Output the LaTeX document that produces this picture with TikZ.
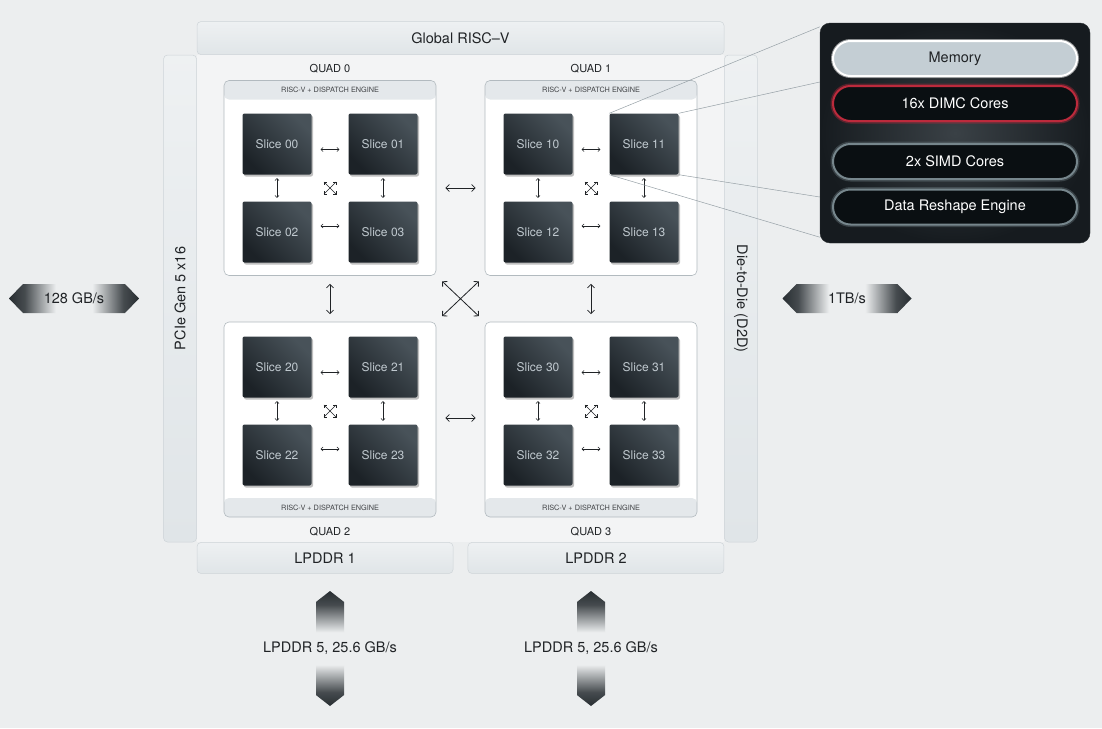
\documentclass[tikz,border=0pt]{standalone}
\usepackage{fontspec}
\setmainfont{TeX Gyre Heros}
\usetikzlibrary{positioning,calc,shadows,shapes.arrows,arrows.meta}

\definecolor{chipbg}{RGB}{236,238,239}
\definecolor{corefill}{RGB}{243,244,245}
\definecolor{barfill}{RGB}{224,229,232}
\definecolor{baredge}{RGB}{206,212,216}
\definecolor{quadedge}{RGB}{178,186,191}
\definecolor{stripfill}{RGB}{228,232,235}
\definecolor{slicedark}{RGB}{28,34,39}
\definecolor{slicelight}{RGB}{72,82,89}
\definecolor{slicetext}{RGB}{192,201,207}
\definecolor{inktext}{RGB}{32,35,38}
\definecolor{linkdark}{RGB}{40,46,50}
\definecolor{paneldark}{RGB}{22,27,31}
\definecolor{panelmid}{RGB}{58,65,70}
\definecolor{memfill}{RGB}{196,206,212}
\definecolor{dimcred}{RGB}{188,42,60}
\definecolor{pillrim}{RGB}{118,134,140}
\definecolor{pillfill}{RGB}{10,15,18}
\definecolor{calloutgray}{RGB}{150,160,166}

\pgfdeclarehorizontalshading{linkfade}{100bp}{color(0bp)=(linkdark); color(25bp)=(linkdark); color(31bp)=(linkdark!85!chipbg); color(43bp)=(chipbg); color(57bp)=(chipbg); color(69bp)=(linkdark!85!chipbg); color(75bp)=(linkdark); color(100bp)=(linkdark)}

\pgfdeclarelayer{front}
\pgfsetlayers{main,front}

\tikzset{
  bar/.style={rectangle, rounded corners=4pt, top color=barfill!55!white, bottom color=barfill, draw=baredge, line width=0.5pt, text=inktext, inner sep=0pt, font=\fontsize{14.5}{17}\selectfont},
  quad/.style={rectangle, rounded corners=5pt, fill=white, draw=quadedge, line width=0.6pt, minimum width=212pt, minimum height=195pt},
  quadtop/.style={quad, path picture={\fill[stripfill] (path picture bounding box.north west) rectangle ([yshift=-19pt]path picture bounding box.north east);}},
  quadbottom/.style={quad, path picture={\fill[stripfill] (path picture bounding box.south west) rectangle ([yshift=19pt]path picture bounding box.south east);}},
  slice/.style={rectangle, rounded corners=2pt, minimum width=69pt, minimum height=61pt, top color=slicelight, bottom color=slicedark, shading angle=-45, text=slicetext, font=\fontsize{12}{14}\selectfont, drop shadow={shadow xshift=1.5pt, shadow yshift=-2pt, opacity=0.25, fill=black}},
  quadlabel/.style={text=inktext, font=\fontsize{11}{13}\selectfont},
  enginelabel/.style={text=inktext!85, font=\fontsize{7.3}{9}\selectfont},
  link/.style={>={Straight Barb[length=2pt,width=4pt]}, <->, line width=0.55pt, draw=inktext},
  hshort/.style={shorten <=9pt, shorten >=9pt},
  vshort/.style={shorten <=3.5pt, shorten >=3.5pt},
  bus/.style={>={Straight Barb[length=3.5pt,width=7pt]}, <->, line width=0.8pt, draw=inktext},
  hlink/.style={double arrow, double arrow head extend=0pt, double arrow tip angle=92, inner sep=0pt, minimum width=29pt, shade, shading=linkfade, text=inktext, font=\fontsize{14.5}{17}\selectfont},
  vlink/.style={hlink, rotate=90, shading angle=90, minimum height=115pt, minimum width=28pt, double arrow tip angle=104},
  linklabel/.style={text=inktext, font=\fontsize{14.5}{17}\selectfont},
  panel/.style={rectangle, rounded corners=10pt, minimum width=270pt, minimum height=220pt, inner color=panelmid, outer color=paneldark, draw=panelmid!70!black},
  pill/.style={rectangle, rounded corners=17.5pt, minimum width=244pt, minimum height=35pt, line width=2pt, text=white, font=\fontsize{14.5}{17}\selectfont},
  memorypill/.style={fill=memfill, draw=white, text=inktext, preaction={draw=white, line width=4pt, opacity=0.5}},
  dimcpill/.style={fill=pillfill, draw=dimcred, preaction={draw=dimcred, line width=5pt, opacity=0.4}},
  corepill/.style={fill=pillfill, draw=pillrim, preaction={draw=pillrim, line width=5pt, opacity=0.35}},
  callout/.style={draw=calloutgray, line width=0.5pt}
}

\begin{document}
\begin{tikzpicture}[x=1pt, y=-1pt]
  \useasboundingbox (0,0) rectangle (1102,728);
  \fill[chipbg] (0,0) rectangle (1102,728);

  % chip frame
  \node[fill=corefill, minimum width=527pt, minimum height=487pt, inner sep=0pt] (core) at (460.5,298.5) {};
  \node[bar, minimum width=527pt, minimum height=33pt, above=0pt of core] (globalbar) {Global RISC–V};
  \node[bar, rotate=90, anchor=south, minimum width=487pt, minimum height=33pt] (pciebar) at (core.west) {PCIe Gen 5 x16};
  \node[bar, rotate=-90, anchor=south, minimum width=487pt, minimum height=33pt] (d2dbar) at (core.east) {Die-to-Die (D2D)};
  \node[bar, anchor=north west, minimum width=256pt, minimum height=31pt] (lpddr1) at (core.south west) {LPDDR 1};
  \node[bar, anchor=north east, minimum width=256pt, minimum height=31pt] (lpddr2) at (core.south east) {LPDDR 2};

  % off-chip links
  \node[hlink, minimum height=130pt] (pcielink) at (74,298.5) {128 GB/s};
  \node[hlink, minimum height=129pt] (d2dlink) at (847,298.5) {1TB/s};
  \node[vlink] (ddrlink1) at (330,648.5) {};
  \node[vlink] (ddrlink2) at (591,648.5) {};
  \node[linklabel] (ddrtext1) at (ddrlink1.center) {LPDDR 5, 25.6 GB/s};
  \node[linklabel] (ddrtext2) at (ddrlink2.center) {LPDDR 5, 25.6 GB/s};

  % quads
  \foreach \q/\qx/\qy/\gy/\qs/\ha/\hy/\la/\ly in {0/330/178/188/quadtop/north/-9.5/south/4, 1/591/178/188/quadtop/north/-9.5/south/4, 2/330/419.5/411/quadbottom/south/9.5/north/-6, 3/591/419.5/411/quadbottom/south/9.5/north/-6} {
    \node[\qs] (quad\q) at (\qx,\qy) {};
    \node[enginelabel] (engine\q) at ([yshift=\hy pt]quad\q.\ha) {RISC-V + DISPATCH ENGINE};
    \node[quadlabel, anchor=\la] (quadname\q) at ([yshift=\ly pt]quad\q.\ha) {QUAD \q};
    \foreach \r in {0,1} {
      \foreach \c in {0,1} {
        \pgfmathtruncatemacro\s{2*\r+\c}
        \node[slice] (slice\q\s) at (\qx-53+106*\c, \gy-44+88*\r) {Slice \q\s};
      }
    }
    \draw[link, hshort] ([yshift=-5.5pt]slice\q0.east) -- ([yshift=-5.5pt]slice\q1.west);
    \draw[link, hshort] ([yshift=6pt]slice\q2.east) -- ([yshift=6pt]slice\q3.west);
    \draw[link, vshort] (slice\q0.south) -- (slice\q2.north);
    \draw[link, vshort] (slice\q1.south) -- (slice\q3.north);
    \coordinate (hub\q) at (\qx,\gy);
    \draw[link] ($(hub\q)+(-6.5,-6.5)$) -- ($(hub\q)+(6.5,6.5)$);
    \draw[link] ($(hub\q)+(6.5,-6.5)$) -- ($(hub\q)+(-6.5,6.5)$);
  }

  % links between quads
  \draw[bus, shorten <=9pt, shorten >=9pt] ([yshift=-10pt]quad0.east) -- ([yshift=-10pt]quad1.west);
  \draw[bus, shorten <=9pt, shorten >=9pt] ([yshift=1.5pt]quad2.east) -- ([yshift=1.5pt]quad3.west);
  \draw[bus, shorten <=8pt, shorten >=7.5pt] (quad0.south) -- (quad2.north);
  \draw[bus, shorten <=8pt, shorten >=7.5pt] (quad1.south) -- (quad3.north);
  \draw[bus, shorten <=8pt, shorten >=8pt] (quad0.south east) -- (quad3.north west);
  \draw[bus, shorten <=8pt, shorten >=8pt] (quad1.south west) -- (quad2.north east);

  % slice detail
  \begin{pgfonlayer}{front}
    \node[panel] (dimcpanel) at (955,133) {};
    \node[pill, memorypill] (memory) at (955,58.5) {Memory};
    \node[pill, dimcpill, below=8pt of memory] (dimc) {16x DIMC Cores};
    \node[pill, corepill, below=21pt of dimc] (simd) {2x SIMD Cores};
    \node[pill, corepill, below=8.5pt of simd] (reshape) {Data Reshape Engine};
  \end{pgfonlayer}
  \draw[callout] (slice11.north west) -- ([yshift=-4pt]dimcpanel.north west);
  \draw[callout] (slice11.north east) -- ([yshift=51pt]dimcpanel.west);
  \draw[callout] (slice11.south east) -- ([yshift=-64pt]dimcpanel.west);
  \draw[callout] (slice11.south west) -- ([yshift=6pt]dimcpanel.south west);
\end{tikzpicture}
\end{document}
